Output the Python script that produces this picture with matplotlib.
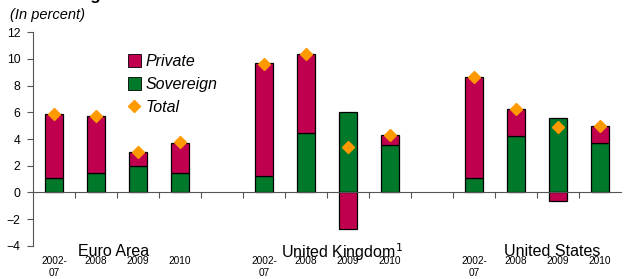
import numpy as np
import matplotlib.pyplot as plt
from matplotlib.lines import Line2D
from matplotlib.patches import Patch

plt.rcParams['font.family'] = ['Liberation Sans', 'DejaVu Sans']

# Daten
years = ['2002-\n07', '2008', '2009', '2010']
groups = ['Euro Area', 'United Kingdom$^1$', 'United States']
sovereign = [1.05, 1.43, 1.97, 1.43,
             1.22, 4.47, 6.05, 3.55,
             1.05, 4.22, 5.60, 3.67]
private = [4.80, 4.30, 1.03, 2.30,
           8.45, 5.90, -2.73, 0.75,
           7.62, 2.00, -0.68, 1.30]
total = [5.85, 5.72, 3.00, 3.75,
         9.62, 10.35, 3.37, 4.30,
         8.67, 6.22, 4.90, 4.97]

c_priv = '#C0004E'
c_sov = '#007A2A'
c_tot = '#FF9900'

# Positionen: 4 Balken je Gruppe, eine Lücke dazwischen
pos = []
for g in range(3):
    pos += [g * 5 + i for i in range(4)]
pos = np.array(pos)

sov = np.array(sovereign)
priv = np.array(private)
bottom = np.where(priv >= 0, sov, 0)

fig = plt.figure(figsize=(6.25, 2.79), dpi=100)
ax = fig.add_axes([33 / 625, 1 - 245.7 / 279, 588 / 625, 213.4 / 279])

ax.bar(pos, sov, width=0.42, color=c_sov, edgecolor='black', linewidth=0.9, zorder=2)
ax.bar(pos, priv, width=0.42, bottom=bottom, color=c_priv, edgecolor='black', linewidth=0.9, zorder=2)
ax.plot(pos, total, linestyle='none', marker='D', markersize=6.5, color=c_tot, zorder=3)

ax.set_xlim(-0.5, 13.5)
ax.set_ylim(-4, 12)
ax.set_yticks(range(-4, 13, 2))
ax.tick_params(axis='y', direction='out', length=4, width=0.8, color='#555555', labelsize=8.8, pad=5)

ax.spines['top'].set_visible(False)
ax.spines['right'].set_visible(False)
ax.spines['left'].set_color('#555555')
ax.spines['bottom'].set_position(('data', 0))
ax.spines['bottom'].set_color('#555555')

ax.set_xticks(pos)
ax.set_xticklabels(years * 3, fontsize=7.3, linespacing=1.25)
ax.set_xticks(np.arange(0.5, 13.5, 1), minor=True)
ax.tick_params(axis='x', which='major', length=0, pad=46)
ax.tick_params(axis='x', which='minor', direction='out', length=4, width=0.8, color='#555555')

# Gruppenbeschriftungen
for gx, name in zip([1.43, 6.85, 11.85], groups):
    ax.text(gx, -4.45, name, ha='center', va='center', fontsize=11.5)

fig.text(10 / 625, 1 - 15 / 279, '(In percent)', fontsize=10.5, style='italic', va='center')
fig.text(101 / 625, 1.0, 'Lending', fontsize=12, weight='bold', ha='right', va='baseline')

handles = [Patch(facecolor=c_priv, edgecolor='black', linewidth=0.6),
           Patch(facecolor=c_sov, edgecolor='black', linewidth=0.6),
           Line2D([], [], linestyle='none', marker='D', markersize=6.5, color=c_tot)]
leg = ax.legend(handles, ['Private', 'Sovereign', 'Total'], loc='upper left',
                bbox_to_anchor=(120 / 625, 1 - 46 / 279), bbox_transform=fig.transFigure,
                frameon=False, handlelength=0.8, handleheight=0.8, handletextpad=0.3,
                labelspacing=0.5, borderpad=0, prop={'size': 11.5, 'style': 'italic'})

fig.savefig('out.png', dpi=100)
